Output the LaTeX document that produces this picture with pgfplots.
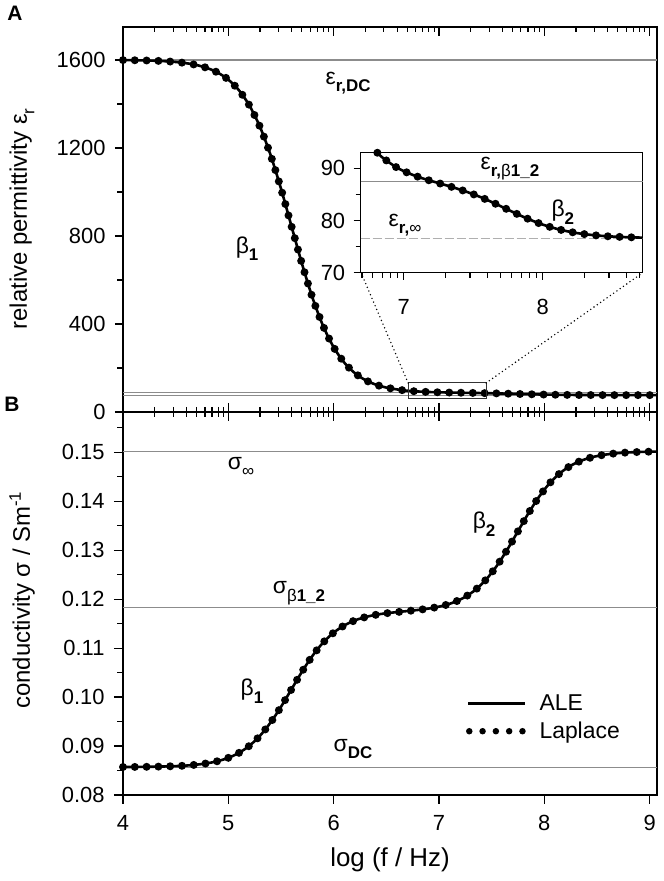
\documentclass[border=0pt]{standalone}
\usepackage{fontspec}
\setmainfont{Liberation Sans}
\usepackage{pgfplots}
\usepackage{pgfplotstable}
\pgfplotsset{compat=1.18}
\definecolor{refgray}{gray}{0.55}
\newcommand{\fs}[1]{\fontsize{#1}{#1}\selectfont}
\newcommand{\sub}[1]{\raisebox{-0.32em}{\fs{17}#1}}
\pgfplotsset{
  base/.style={scale only axis, xmin=4, xmax=9.07, width=534bp, clip=false,
    /pgf/number format/assume math mode=true, /pgf/number format/1000 sep={},
    tick label style={font=\fs{22}}, tick style={black, line width=1.1bp},
    axis line style={line width=1.3bp}},
  mx/.style={minor xtick={4.30103,4.47712,4.60206,4.69897,4.77815,4.84510,4.90309,4.95424,
    5.30103,5.47712,5.60206,5.69897,5.77815,5.84510,5.90309,5.95424,
    6.30103,6.47712,6.60206,6.69897,6.77815,6.84510,6.90309,6.95424,
    7.30103,7.47712,7.60206,7.69897,7.77815,7.84510,7.90309,7.95424,
    8.30103,8.47712,8.60206,8.69897,8.77815,8.84510,8.90309,8.95424}},
  ticksonly/.style={base, axis line style={draw=none}, ytick=\empty, xticklabel={\relax}},
  laplace/.style={black, line width=8bp, line cap=round, dash pattern=on 0bp off 11.8bp, smooth},
  ale/.style={black, line width=2.6bp, smooth},
}
\begin{document}
\pgfplotstableread{
x y
4.0 1599.45
4.1 1598.89
4.2 1598.01
4.3 1596.60
4.4 1594.39
4.5 1590.91
4.6 1585.42
4.7 1576.80
4.8 1563.33
4.9 1542.47
5.0 1510.60
5.1 1462.85
5.2 1393.41
5.3 1296.65
5.4 1169.57
5.5 1015.08
5.6 843.90
5.7 672.72
5.8 518.23
5.9 391.15
6.0 294.40
6.1 224.95
6.2 177.19
6.3 145.32
6.4 124.45
6.5 110.97
6.65 99.25
6.75 94.84
6.85 92.00
6.95 90.15
7.05 88.90
7.15 87.96
7.25 87.18
7.35 86.40
7.45 85.53
7.55 84.52
7.65 83.34
7.75 82.08
7.85 80.83
7.95 79.71
8.05 78.79
8.15 78.09
8.25 77.58
8.35 77.24
8.45 77.01
8.55 76.87
8.65 76.77
8.75 76.71
8.85 76.67
8.95 76.64
9.05 76.63
9.07 76.63
}\epsA
\pgfplotstableread{
x y
6.81 92.99
6.85 92.00
6.95 90.15
7.05 88.90
7.15 87.96
7.25 87.18
7.35 86.40
7.45 85.53
7.55 84.52
7.65 83.34
7.75 82.08
7.85 80.83
7.95 79.71
8.05 78.79
8.15 78.09
8.25 77.58
8.35 77.24
8.45 77.01
8.55 76.87
8.65 76.77
8.72 76.72
}\epsInset
\pgfplotstableread{
x y
4.0 0.08572
4.1 0.08573
4.2 0.08575
4.3 0.08578
4.4 0.08583
4.5 0.08590
4.6 0.08601
4.7 0.08620
4.8 0.08648
4.9 0.08692
5.0 0.08759
5.1 0.08859
5.2 0.09005
5.3 0.09208
5.4 0.09476
5.5 0.09800
5.6 0.10160
5.7 0.10520
5.8 0.10845
5.9 0.11112
6.0 0.11315
6.1 0.11461
6.2 0.11564
6.3 0.11632
6.4 0.11679
6.5 0.11711
6.65 0.11745
6.75 0.11767
6.85 0.11791
6.95 0.11824
7.05 0.11871
7.15 0.11942
7.25 0.12046
7.35 0.12196
7.45 0.12406
7.55 0.12681
7.65 0.13015
7.75 0.13385
7.85 0.13755
7.95 0.14089
8.05 0.14364
8.15 0.14573
8.25 0.14723
8.35 0.14826
8.45 0.14895
8.55 0.14940
8.65 0.14969
8.75 0.14988
8.85 0.15000
8.95 0.15007
9.05 0.15012
9.07 0.15012
}\sigB
\begin{tikzpicture}
\path (0,0) rectangle (664bp,881bp);
% ---------- Panel A ----------
\begin{axis}[base, at={(123bp,469bp)}, anchor=south west, height=385bp,
  ymin=0, ymax=1750, ytick={0,400,800,1200,1600}, minor ytick={200,600,1000,1400},
  ytick pos=left, xtick=\empty, tick align=outside,
  major tick length=8bp, minor tick length=6bp,
  yticklabel style={xshift=-6bp}]
\addplot[refgray, line width=1.1bp] coordinates {(4,1600) (9.07,1600)};
\addplot[refgray, line width=1bp] coordinates {(4,87.4) (9.07,87.4)};
\addplot[refgray, line width=1bp] coordinates {(4,76.6) (9.07,76.6)};
\addplot[laplace] table {\epsA};
\addplot[ale] table {\epsA};
\addplot[black!80, line width=1bp] coordinates {(6.707,63.6) (7.447,63.6) (7.447,131.8) (6.707,131.8) (6.707,63.6)};
\addplot[black, line width=1.6bp, dash pattern=on 0bp off 4bp, line cap=round] coordinates {(6.707,131.8) (6.260,633.2)};
\addplot[black, line width=1.6bp, dash pattern=on 0bp off 4bp, line cap=round] coordinates {(7.447,131.8) (8.935,633.2)};
\node[font=\fs{23}] at (axis cs:6.137,1495) {ε\sub{\textbf{r,DC}}};
\node[font=\fs{23}] at (axis cs:5.178,741) {β\sub{\textbf{1}}};
\end{axis}
\begin{axis}[ticksonly, mx, at={(123bp,469bp)}, anchor=south west, height=385bp,
  ymin=0, ymax=1750, xtick={4,5,6,7,8,9}, xtick pos=right, tick align=inside,
  major tick length=9bp, minor tick length=5bp]
\end{axis}
\begin{axis}[ticksonly, mx, at={(123bp,86bp)}, anchor=south west, height=383bp,
  ymin=0.08, ymax=0.1582, xtick={4,5,6,7,8,9}, xtick pos=right, tick align=center,
  major tick length=18bp, minor tick length=10bp]
\end{axis}
% ---------- Inset ----------
\begin{axis}[scale only axis, at={(360.7bp,608.3bp)}, anchor=south west,
  width=282bp, height=120bp, xmin=6.69, xmax=8.72, ymin=70, ymax=93, clip=false,
  /pgf/number format/assume math mode=true,
  tick label style={font=\fs{22}}, tick style={black, line width=1.1bp},
  axis line style={line width=1.3bp},
  axis background/.style={fill=white},
  xtick={7,8}, minor xtick={6.69897,6.77815,6.84510,6.90309,6.95424,7.30103,7.47712,7.60206,7.69897,7.77815,7.84510,7.90309,7.95424,8.30103,8.47712,8.60206,8.69897},
  ytick={70,80,90}, minor ytick={75,85}, xtick pos=left, ytick pos=left,
  tick align=outside, major tick length=7bp, minor tick length=5bp,
  xticklabel style={yshift=-16bp}, yticklabel style={xshift=-5bp}]
\addplot[refgray, line width=1bp] coordinates {(6.69,87.4) (8.72,87.4)};
\addplot[refgray!70, line width=1bp, dash pattern=on 9bp off 3bp] coordinates {(6.69,76.6) (8.72,76.6)};
\addplot[laplace] table {\epsInset};
\addplot[ale] table {\epsInset};
\node[font=\fs{23}] at (axis cs:7.764,89.9) {ε\sub{\textbf{r,}β\textbf{1\_2}}};
\node[font=\fs{23}] at (axis cs:8.145,81.6) {β\sub{\textbf{2}}};
\node[font=\fs{23}] at (axis cs:7.009,79.1) {ε\sub{\textbf{r,}∞}};
\end{axis}
% ---------- Panel B ----------
\begin{axis}[base, at={(123bp,86bp)}, anchor=south west, height=383bp,
  ymin=0.08, ymax=0.1582,
  ytick={0.08,0.09,0.10,0.11,0.12,0.13,0.14,0.15},
  yticklabels={0.08,0.09,0.10,0.11,0.12,0.13,0.14,0.15},
  minor ytick={0.085,0.095,0.105,0.115,0.125,0.135,0.145,0.155},
  ytick pos=left, xtick={4,5,6,7,8,9}, xtick pos=left, tick align=outside,
  major tick length=9bp, minor tick length=6bp,
  yticklabel style={xshift=-6bp}, xticklabel style={yshift=-8bp},
  legend cell align=left,
  legend style={at={(0.642,0.267)}, anchor=north west, draw=none, fill=none,
    inner sep=0pt, font=\fs{23}, row sep=6bp, column sep=10bp}]
\addlegendimage{legend image code/.code={\draw[black, line width=2.6bp] (0bp,0bp) -- (57bp,0bp);}}
\addlegendentry{ALE}
\addlegendimage{legend image code/.code={\draw[black, line width=6.5bp, line cap=round, dash pattern=on 0bp off 13.3bp] (1bp,0bp) -- (56bp,0bp);}}
\addlegendentry{Laplace}
\addplot[refgray, line width=1.1bp, forget plot] coordinates {(4,0.1502) (9.07,0.1502)};
\addplot[refgray, line width=1.1bp, forget plot] coordinates {(4,0.1182) (9.07,0.1182)};
\addplot[refgray, line width=1.1bp, forget plot] coordinates {(4,0.0857) (9.07,0.0857)};
\addplot[laplace, forget plot] table {\sigB};
\addplot[ale, forget plot] table {\sigB};
\node[font=\fs{23}] at (axis cs:5.121,0.14694) {σ\sub{∞}};
\node[font=\fs{23}] at (axis cs:5.671,0.12122) {σ\sub{β\textbf{1\_2}}};
\node[font=\fs{23}] at (axis cs:5.225,0.10122) {β\sub{\textbf{1}}};
\node[font=\fs{23}] at (axis cs:7.428,0.13531) {β\sub{\textbf{2}}};
\node[font=\fs{23}] at (axis cs:6.184,0.08939) {σ\sub{\textbf{DC}}};
\end{axis}
\begin{axis}[ticksonly, mx, at={(123bp,86bp)}, anchor=south west, height=383bp,
  ymin=0.08, ymax=0.1582, xtick=\empty, xtick pos=left, tick align=inside,
  minor tick length=5bp]
\end{axis}
% ---------- labels ----------
\node[rotate=90, font=\fs{24}] at (22bp,662bp) {relative permittivity ε\sub{r}};
\node[rotate=90, font=\fs{24}] at (22bp,281bp) {conductivity σ / Sm\textsuperscript{-1}};
\node[font=\fs{26}] at (390bp,21bp) {log (f / Hz)};
\node[font=\fs{21}\bfseries] at (15bp,868bp) {A};
\node[font=\fs{21}\bfseries] at (12bp,477bp) {B};
\end{tikzpicture}
\end{document}
